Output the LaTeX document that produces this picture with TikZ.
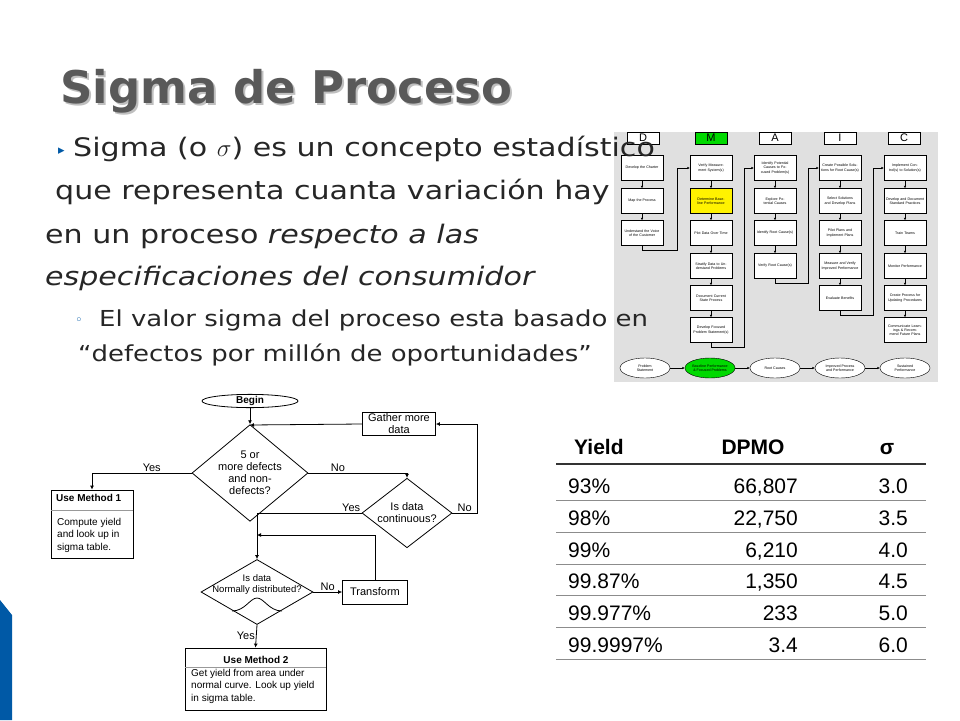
\documentclass[tikz,border=0pt]{standalone}
\usepackage{fontspec}
\setmainfont{DejaVu Sans}
\newfontfamily\arialf{Liberation Sans}
\newfontfamily\widef{DejaVu Sans}[FakeStretch=1.18]
\usetikzlibrary{shapes.geometric,arrows.meta}
\begin{document}
\begin{tikzpicture}[x=1pt,y=-1pt,
  body/.style={anchor=base west,inner sep=0,font=\widef\fontsize{25.5}{25}\selectfont,text=black!85},
  sub/.style={anchor=base west,inner sep=0,font=\widef\fontsize{22}{22}\selectfont,text=black!85},
  fbox/.style={draw,thick,font=\arialf\fontsize{11}{12}\selectfont,align=center,inner sep=2pt},
  fdia/.style={draw,thick,diamond,aspect=1.2,font=\arialf\fontsize{11}{12}\selectfont,align=center,inner sep=0pt},
  flab/.style={font=\arialf\fontsize{11}{12}\selectfont,inner sep=1pt},
  fl/.style={thick,-{Latex[length=4pt,width=4pt]}},
  dbox/.style={draw,fill=white,minimum width=42pt,minimum height=25pt,inner sep=0.5pt,align=center,font=\arialf\fontsize{3.6}{4.2}\selectfont,text width=40pt},
  dhead/.style={draw,fill=white,minimum width=32pt,minimum height=12pt,inner sep=0,font=\arialf\fontsize{11}{11}\selectfont},
  dell/.style={draw,fill=white,ellipse,minimum width=50pt,minimum height=20pt,inner sep=0,align=center,font=\arialf\fontsize{3.6}{4.2}\selectfont},
  dl/.style={semithick,-{Latex[length=2.5pt,width=2.5pt]}},
  tt/.style={font=\arialf\fontsize{21}{21}\selectfont,inner sep=0},
  th/.style={font=\arialf\bfseries\fontsize{21}{21}\selectfont,inner sep=0}]
\useasboundingbox (0,0) rectangle (960,720);
\fill[white] (0,0) rectangle (960,720);
% left decoration
\fill[teal!70!blue] (0,600) -- (12,615) -- (12,720) -- (0,720) -- cycle;
% title
\node[anchor=base west,inner sep=0,text=black!25,font=\bfseries\fontsize{45}{45}\selectfont] at (62,105) {Sigma de Proceso};
\node[anchor=base west,inner sep=0,text=black!65,font=\bfseries\fontsize{45}{45}\selectfont] (title) at (60,103) {Sigma de Proceso};
% DMAIC panel
\fill[black!12] (614,132) rectangle (938,382);
\foreach \n/\x/\t in {D/643/D,M/711/M,A/775/A,I/840/I,C/904/C}{
  \node[dhead] (h\n) at (\x,138) {\t};}
\node[dhead,fill=green!85!black] at (711,138) {M};
\node[dbox] (d1) at (642,168) {Develop the Charter};
\node[dbox] (d2) at (642,201) {Map the Process};
\node[dbox] (d3) at (642,233) {Understand the Voice of the Customer};
\node[dbox] (m1) at (711,168) {Verify Measurement System(s)};
\node[dbox,fill=yellow] (m2) at (711,201) {Determine Baseline Performance};
\node[dbox] (m3) at (711,233) {Plot Data Over Time};
\node[dbox] (m4) at (711,266) {Stratify Data to Understand Problems};
\node[dbox] (m5) at (711,298) {Document Current State Process};
\node[dbox] (m6) at (711,330) {Develop Focused Problem Statement(s)};
\node[dbox] (a1) at (775,168) {Identify Potential Causes to Focused Problem(s)};
\node[dbox] (a2) at (775,201) {Explore Potential Causes};
\node[dbox] (a3) at (775,233) {Identify Root Cause(s)};
\node[dbox] (a4) at (775,266) {Verify Root Cause(s)};
\node[dbox] (i1) at (840,168) {Create Possible Solutions for Root Cause(s)};
\node[dbox] (i2) at (840,201) {Select Solutions and Develop Plans};
\node[dbox] (i3) at (840,233) {Pilot Plans and Implement Plans};
\node[dbox] (i4) at (840,266) {Measure and Verify Improved Performance};
\node[dbox] (i5) at (840,298) {Evaluate Benefits};
\node[dbox] (c1) at (905,168) {Implement Control(s) to Solution(s)};
\node[dbox] (c2) at (905,201) {Develop and Document Standard Practices};
\node[dbox] (c3) at (905,233) {Train Teams};
\node[dbox] (c4) at (905,266) {Monitor Performance};
\node[dbox] (c5) at (905,298) {Create Process for Updating Procedures};
\node[dbox] (c6) at (905,330) {Communicate Learnings \& Recommend Future Plans};
\foreach \a/\b in {d1/d2,d2/d3,m1/m2,m2/m3,m3/m4,m4/m5,m5/m6,a1/a2,a2/a3,a3/a4,i1/i2,i2/i3,i3/i4,i4/i5,c1/c2,c2/c3,c3/c4,c4/c5,c5/c6}
  \draw[dl] (\a) -- (\b);
\draw[dl] (d3.south) -- ++(0,5) -| (677,168) -- (m1.west);
\draw[dl] (m6.south) -- ++(0,5) -| (744,168) -- (a1.west);
\draw[dl] (a4.south) -- ++(0,5) -| (808,168) -- (i1.west);
\draw[dl] (i5.south) -- ++(0,5) -| (873,168) -- (c1.west);
\node[dell] (e1) at (645,368) {Problem\\Statement};
\node[dell,fill=green!85!black] (e2) at (710,368) {Baseline Performance\\\& Focused Problems};
\node[dell] (e3) at (775,368) {Root Causes};
\node[dell] (e4) at (840,368) {Improved Process\\and Performance};
\node[dell] (e5) at (905,368) {Sustained\\Performance};
\foreach \a/\b in {e1/e2,e2/e3,e3/e4,e4/e5} \draw[dl] (\a) -- (\b);
% body text
\node[anchor=base west,inner sep=0,text=teal!70!blue,font=\fontsize{13}{13}\selectfont] (bul) at (58,154) {\symbol{"25B8}};
\node[body] (t1) at (73,156) {Sigma (o $\sigma$) es un concepto estadístico};
\node[body] (t2) at (55,199) {que representa cuanta variación hay};
\node[body] (t3) at (45,243) {en un proceso \textit{respecto a las}};
\node[body] (t4) at (45,285) {\textit{especificaciones del consumidor}};
\node[anchor=base west,inner sep=0,text=teal!70!blue,font=\fontsize{13}{13}\selectfont] (bul2) at (75,324) {\symbol{"25E6}};
\node[sub] (t5) at (99,326) {El valor sigma del proceso esta basado en};
\node[sub] (t6) at (78,361) {“defectos por millón de oportunidades”};
% flowchart
\node[draw,thick,ellipse,minimum width=96pt,minimum height=12pt,inner sep=0,font=\arialf\bfseries\fontsize{10}{10}\selectfont] (begin) at (250,401) {Begin};
\node[fbox,minimum width=73pt,minimum height=23pt,inner sep=0] (gather) at (399,424) {Gather more\\data};
\node[fdia,minimum width=90pt,minimum height=77pt] (q1) at (250,473) {5 or\\more defects\\and non-\\defects?};
\node[fdia,minimum width=90pt,minimum height=56pt] (q2) at (407,513) {Is data\\continuous?};
\node[fdia,minimum width=112pt,minimum height=65pt] (q3) at (257,592) {};
\node[flab,align=center,font=\arialf\fontsize{9.5}{11}\selectfont] (q3t) at (257,585) {Is data\\Normally distributed?};
\draw[thick] (232,611) .. controls (245,611) and (250,598) .. (257,598) .. controls (264,598) and (269,611) .. (282,611);
\node[fbox,minimum width=65pt,minimum height=24pt] (transform) at (375,592) {Transform};
\node[draw,thick,minimum width=82pt,minimum height=68pt,inner sep=0] (m1box) at (92,524) {};
\node[font=\arialf\bfseries\fontsize{10}{11}\selectfont,anchor=north west,inner sep=0] (m1h) at (56,494) {Use Method 1};
\draw[black!40] (51,510) -- (133,510);
\node[font=\arialf\fontsize{10}{12.5}\selectfont,anchor=north west,align=left,inner sep=0] (m1t) at (57,518) {Compute yield\\and look up in\\sigma table.};
\node[draw,thick,minimum width=141pt,minimum height=62pt,inner sep=0] (m2box) at (255.5,679) {};
\node[font=\arialf\bfseries\fontsize{10}{11}\selectfont,inner sep=0] (m2h) at (256,660) {Use Method 2};
\draw[black!40] (185,667) -- (326,667);
\node[font=\arialf\fontsize{10}{12.5}\selectfont,anchor=north west,align=left,inner sep=0] (m2t) at (191,669) {Get yield from area under\\normal curve. Look up yield\\in sigma table.};
\draw[fl] (begin) -- (q1);
\draw[fl] (gather.west) -- (250,425);
\draw[fl] (q1.west) -| node[flab,pos=0.2,above] (y1) {Yes} (m1box.north);
\draw[fl] (q1.east) -| node[flab,pos=0.15,above] (n1) {No} (q2.north);
\draw[fl] (q2.east) -- node[flab,above] (n2) {No} (477,513) |- (gather.east);
\draw[fl] (q2.west) -| node[flab,pos=0.05,above] (y2) {Yes} (q3.north);
\draw[fl] (q3.east) -- node[flab,above] (n3) {No} (transform.west);
\draw[fl] (transform.north) |- (257,535);
\draw[fl] (q3.south) -- node[flab,left] (y3) {Yes} (m2box.north);
% table
\node[th,anchor=base west] (hy) at (574,454) {Yield};
\node[th,anchor=base] (hd) at (753,454) {DPMO};
\node[th,anchor=base] (hs) at (887,454) {σ};
\draw[line width=1.6pt,black!80] (556,464) -- (926,464);
\foreach \i/\y/\d/\s in {1/93\%/{66,807}/3.0,2/98\%/{22,750}/3.5,3/99\%/{6,210}/4.0,4/99.87\%/{1,350}/4.5,5/99.977\%/233/5.0,6/99.9997\%/3.4/6.0}{
  \pgfmathsetmacro{\yy}{462+31.7*\i}
  \node[tt,anchor=base west] (ry\i) at (568,\yy) {\y};
  \node[tt,anchor=base east] (rd\i) at (798,\yy) {\d};
  \node[tt,anchor=base east] (rs\i) at (908,\yy) {\s};
  \draw[black!45,thick] (556,\yy+7) -- (926,\yy+7);
}
\end{tikzpicture}
\end{document}
